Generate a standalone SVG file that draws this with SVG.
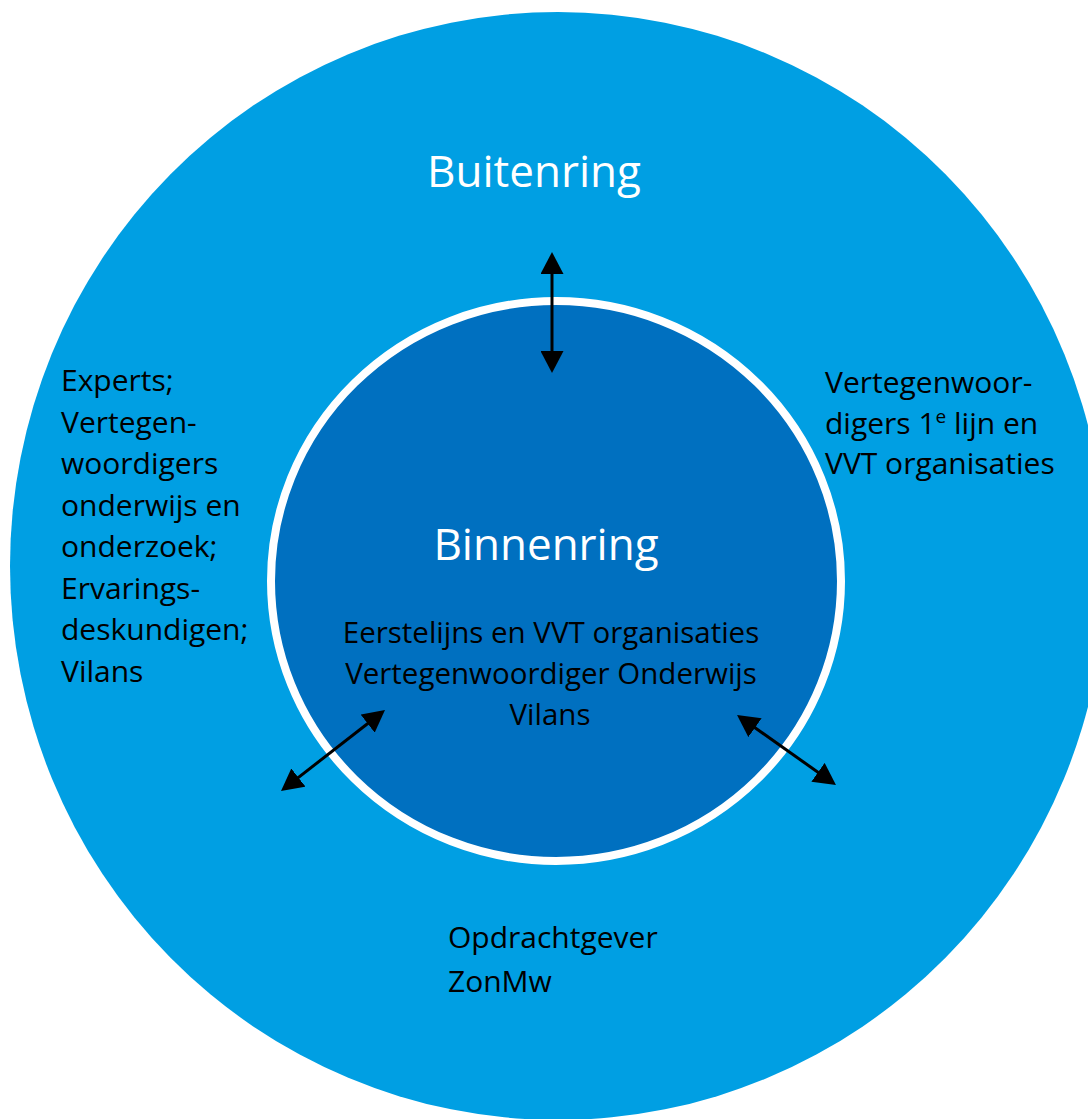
<svg xmlns="http://www.w3.org/2000/svg" width="1088" height="1119" viewBox="0 0 1088 1119">
<style>
.lbl{font-family:"Open Sans","Noto Sans","Liberation Sans",sans-serif;font-size:30px;fill:#000}
.ctr{font-family:"Open Sans","Noto Sans","Liberation Sans",sans-serif;font-size:29.5px;fill:#000;text-anchor:middle}
.ttl{font-family:"Open Sans","Noto Sans","Liberation Sans",sans-serif;font-size:44px;fill:#fff;text-anchor:middle}
.arr{stroke:#000;stroke-width:3;fill:none;marker-start:url(#ah);marker-end:url(#ah)}
</style>
<defs>
<marker id="ah" viewBox="0 0 22 23" refX="12" refY="11.5" markerWidth="22" markerHeight="23" markerUnits="userSpaceOnUse" orient="auto-start-reverse">
<path d="M0,0 L22,11.5 L0,23 Z" fill="#000"/>
</marker>
</defs>
<rect width="1088" height="1119" fill="#fff"/>
<g id="buitenring">
<ellipse cx="558" cy="566" rx="548" ry="554" fill="#009FE3"/>
<text class="ttl" x="534" y="187">Buitenring</text>
</g>
<g id="binnenring">
<ellipse cx="556" cy="581" rx="285" ry="280" fill="#0070C0" stroke="#fff" stroke-width="8"/>
<text class="ttl" x="546" y="560">Binnenring</text>
<text class="ctr" x="551" y="643">Eerstelijns en VVT organisaties</text>
<text class="ctr" x="551" y="684">Vertegenwoordiger Onderwijs</text>
<text class="ctr" x="550" y="725">Vilans</text>
</g>
<g id="links">
<text class="lbl" x="61" y="391">Experts;</text>
<text class="lbl" x="61" y="432.5">Vertegen-</text>
<text class="lbl" x="61" y="474">woordigers</text>
<text class="lbl" x="61" y="515.5">onderwijs en</text>
<text class="lbl" x="61" y="557">onderzoek;</text>
<text class="lbl" x="61" y="598.5">Ervarings-</text>
<text class="lbl" x="61" y="640">deskundigen;</text>
<text class="lbl" x="61" y="681.5">Vilans</text>
</g>
<g id="rechts">
<text class="lbl" x="825" y="393">Vertegenwoor-</text>
<text class="lbl" x="825" y="433.5">digers 1<tspan font-size="19" dy="-11">e</tspan><tspan dy="11"> lijn en</tspan></text>
<text class="lbl" x="825" y="474">VVT organisaties</text>
</g>
<g id="onder">
<text class="lbl" x="448" y="948">Opdrachtgever</text>
<text class="lbl" x="448" y="991.5">ZonMw</text>
</g>
<g id="connectors">
<line class="arr" x1="552" y1="262" x2="552" y2="363"/>
<line class="arr" x1="288.9" y1="784.9" x2="377.1" y2="716.2"/>
<line class="arr" x1="745.2" y1="720.8" x2="827.8" y2="779.2"/>
</g>
</svg>
